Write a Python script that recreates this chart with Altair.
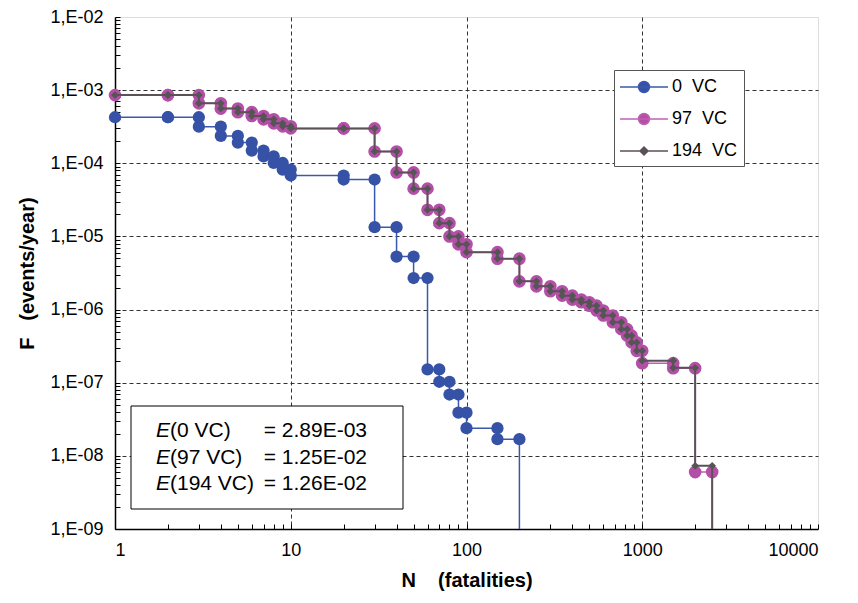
import altair as alt
import pandas as pd

# ---------------- data ----------------
SERIES = ["0\u00a0\u00a0VC", "97\u00a0\u00a0VC", "194\u00a0\u00a0VC"]
DROP = 1e-10  # curve falls to zero (below the axis)

blue_N = [1, 2, 3, 4, 5, 6, 7, 8, 9, 10, 20, 30, 40, 50, 60, 70, 80, 90, 100, 150, 200]
blue_F = [4.26e-4, 4.26e-4, 3.17e-4, 2.37e-4, 1.92e-4, 1.49e-4, 1.24e-4, 1.01e-4, 8.2e-5,
          6.8e-5, 6.0e-5, 1.34e-5, 5.3e-6, 2.7e-6, 1.52e-7, 1.03e-7, 6.9e-8, 3.9e-8,
          2.39e-8, 1.69e-8, DROP]

mag_N = [1, 2, 3, 4, 5, 6, 7, 8, 9, 10, 20, 30, 40, 50, 60, 70, 80, 90, 100, 150, 200,
         250, 300, 350, 400, 450, 500, 550, 600, 680, 760, 820, 870, 930, 1000, 1500,
         2000, 2500]
mag_F = [8.55e-4, 8.55e-4, 6.6e-4, 5.6e-4, 5.0e-4, 4.43e-4, 3.99e-4, 3.52e-4, 3.2e-4,
         3.0e-4, 3.0e-4, 1.45e-4, 7.5e-5, 4.5e-5, 2.31e-5, 1.52e-5, 1.0e-5, 7.8e-6,
         6.1e-6, 4.96e-6, 2.43e-6, 2.08e-6, 1.78e-6, 1.55e-6, 1.37e-6, 1.26e-6, 1.13e-6,
         9.7e-7, 8.3e-7, 6.7e-7, 5.4e-7, 4.4e-7, 3.56e-7, 2.73e-7, 1.85e-7, 1.58e-7,
         6.0e-9, DROP]

gray_N = [1, 2, 3, 4, 5, 6, 7, 8, 9, 10, 20, 30, 40, 50, 60, 70, 80, 90, 100, 150, 200,
          250, 300, 350, 400, 450, 500, 550, 600, 680, 760, 820, 870, 930, 1000, 1500,
          2000, 2500]
gray_F = [8.55e-4, 8.55e-4, 6.6e-4, 5.6e-4, 5.0e-4, 4.43e-4, 3.99e-4, 3.52e-4, 3.2e-4,
          3.0e-4, 3.0e-4, 1.45e-4, 7.5e-5, 4.5e-5, 2.31e-5, 1.52e-5, 1.0e-5, 7.8e-6,
          6.1e-6, 4.96e-6, 2.43e-6, 2.08e-6, 1.78e-6, 1.55e-6, 1.37e-6, 1.26e-6, 1.13e-6,
          9.7e-7, 8.3e-7, 6.7e-7, 5.4e-7, 4.4e-7, 3.56e-7, 2.73e-7, 2.0e-7, 1.6e-7,
          7.3e-9, DROP]

x_major = [1, 10, 100, 1000, 10000]
y_major = [1e-2, 1e-3, 1e-4, 1e-5, 1e-6, 1e-7, 1e-8, 1e-9]
x_ticks = [k * 10 ** d for d in range(0, 4) for k in range(1, 10)] + [10000]
y_ticks = [k * 10.0 ** e for e in range(-9, -2) for k in range(1, 10)] + [1e-2]

ann_names = ["(0 VC)", "(97 VC)", "(194 VC)"]
ann_values = ["= 2.89E-03", "= 1.25E-02", "= 1.26E-02"]

COLORS = ["#3552A6", "#B44FA8", "#555555"]
LINE_COLORS = ["#3A58AE", "#C060B4", "#5C5059"]


def steps(name, Ns, Fs):
    rows = [dict(series=name, N=Ns[0], F=Fs[0], o=0)]
    for i in range(1, len(Ns)):
        rows.append(dict(series=name, N=Ns[i], F=Fs[i - 1], o=2 * i - 1))
        rows.append(dict(series=name, N=Ns[i], F=Fs[i], o=2 * i))
    return pd.DataFrame(rows)


df_b = steps(SERIES[0], blue_N, blue_F)
df_m = steps(SERIES[1], mag_N, mag_F)
df_g = steps(SERIES[2], gray_N, gray_F)

FONT = "Liberation Sans"
xs = alt.Scale(type="log", domain=[1, 10000])
ys = alt.Scale(type="log", domain=[1e-9, 1e-2])

X0 = alt.X("N:Q", scale=xs, axis=None)
Y0 = alt.Y("F:Q", scale=ys, axis=None)


def line(df, color, width):
    return alt.Chart(df).mark_line(color=color, strokeWidth=width, clip=True).encode(
        x=X0, y=Y0, order="o:Q")


def pts(df, color, shape, size):
    return alt.Chart(df).transform_filter("datum.F >= 1e-9").mark_point(
        filled=True, color=color, shape=shape, size=size, opacity=1).encode(x=X0, y=Y0)


# main axes (labels, grid, domain)
grid_cond_x = {"condition": {"test": "datum.value > 1 && datum.value < 10000", "value": 1}, "value": 0}
grid_cond_y = {"condition": {"test": "datum.value > 1.5e-9 && datum.value < 0.009", "value": 1}, "value": 0}

axis_x = alt.Axis(values=x_major, format="d", tickSize=0, labelPadding=12, labelFontSize=18,
                  labelFont=FONT, labelColor="black", domainColor="black", domainWidth=1.5,
                  grid=True, gridDash=[4, 3], gridColor="#333333", gridWidth=1,
                  gridOpacity=grid_cond_x, orient="bottom",
                  title="N\u00a0\u00a0\u00a0\u00a0(fatalities)", titleFont=FONT,
                  titleFontSize=20, titleFontWeight="bold", titleColor="black",
                  titlePadding=11)
axis_y = alt.Axis(values=y_major, labelExpr="'1,E-0' + round(-log(datum.value)/LN10)",
                  tickSize=0, labelPadding=12, labelFontSize=18, labelFont=FONT,
                  labelColor="black", domainColor="black", domainWidth=1.5,
                  grid=True, gridDash=[4, 3], gridColor="#333333", gridWidth=1,
                  gridOpacity=grid_cond_y, orient="left",
                  title="F\u00a0\u00a0\u00a0(events/year)", titleFont=FONT,
                  titleFontSize=20, titleFontWeight="bold", titleColor="black",
                  titlePadding=12)

base = alt.Chart(df_b).mark_point(opacity=0).encode(
    x=alt.X("N:Q", scale=xs, axis=axis_x), y=alt.Y("F:Q", scale=ys, axis=axis_y))

# inward tick marks
tick_x = alt.Axis(values=x_ticks, orient="bottom", offset=-5, tickSize=5, tickColor="black",
                  tickWidth=1, labels=False, domain=False, grid=False, title=None)
tick_y = alt.Axis(values=y_ticks, orient="left", offset=-5, tickSize=5, tickColor="black",
                  tickWidth=1, labels=False, domain=False, grid=False, title=None)
ticks = alt.Chart(df_b).mark_point(opacity=0).encode(
    x=alt.X("N:Q", scale=xs, axis=tick_x), y=alt.Y("F:Q", scale=ys, axis=tick_y))

# legend
P_CIRCLE = "M-2.4,0L2.4,0M-0.55,0A0.55,0.55,0,1,1,0.55,0A0.55,0.55,0,1,1,-0.55,0Z"
P_DIAMOND = "M-2.4,0L2.4,0M-0.4,0L0,-0.4L0.4,0L0,0.4Z"
leg = alt.Legend(title=None, orient="none", legendX=499, legendY=53, fillColor="white",
                 strokeColor="#555555", padding=6, symbolSize=400, symbolStrokeWidth=1.5,
                 labelFontSize=18, labelFont=FONT, labelColor="black", rowPadding=12,
                 symbolOffset=13, labelOffset=17, labelLimit=200)
legend_layer = alt.Chart(df_b).transform_filter("false").mark_point(
    filled=True, opacity=1, strokeWidth=1.5).encode(
    x=X0, y=Y0,
    fill=alt.Fill("series:N", scale=alt.Scale(domain=SERIES, range=COLORS), legend=leg),
    stroke=alt.Stroke("series:N", scale=alt.Scale(domain=SERIES, range=LINE_COLORS), legend=leg),
    shape=alt.Shape("series:N", scale=alt.Scale(domain=SERIES, range=[P_CIRCLE, P_CIRCLE, P_DIAMOND]),
                    legend=leg),
)

# annotation box
one = pd.DataFrame({"a": [0]})
box = alt.Chart(one).mark_rect(fill="white", stroke="black", strokeWidth=1).encode(
    x=alt.value(16), x2=alt.value(288), y=alt.value(389), y2=alt.value(492))
ann = []
for i, (nm, val) in enumerate(zip(ann_names, ann_values)):
    yy = 414 + 26.7 * i
    ann.append(alt.Chart(one).mark_text(text="E", font=FONT, fontSize=21, fontStyle="italic",
                                        align="left", baseline="middle", color="black").encode(
        x=alt.value(41), y=alt.value(yy)))
    ann.append(alt.Chart(one).mark_text(text=nm, font=FONT, fontSize=21, align="left",
                                        baseline="middle", color="black").encode(
        x=alt.value(55), y=alt.value(yy)))
    ann.append(alt.Chart(one).mark_text(text=val, font=FONT, fontSize=21, align="right",
                                        baseline="middle", color="black").encode(
        x=alt.value(252), y=alt.value(yy)))

chart = alt.layer(
    base, ticks,
    line(df_b, LINE_COLORS[0], 1.5), pts(df_b, COLORS[0], "circle", 150),
    line(df_m, LINE_COLORS[1], 1.5), pts(df_m, COLORS[1], "circle", 160),
    line(df_g, LINE_COLORS[2], 2), pts(df_g, COLORS[2], "diamond", 60),
    legend_layer, box, *ann,
).resolve_axis(x="independent", y="independent").properties(
    width=703, height=512, padding={"left": 9, "top": 0, "right": 2, "bottom": 5}
).configure_view(stroke=None).configure(background="white")

chart.save("out.html", embed_options={"renderer": "svg", "actions": False})
